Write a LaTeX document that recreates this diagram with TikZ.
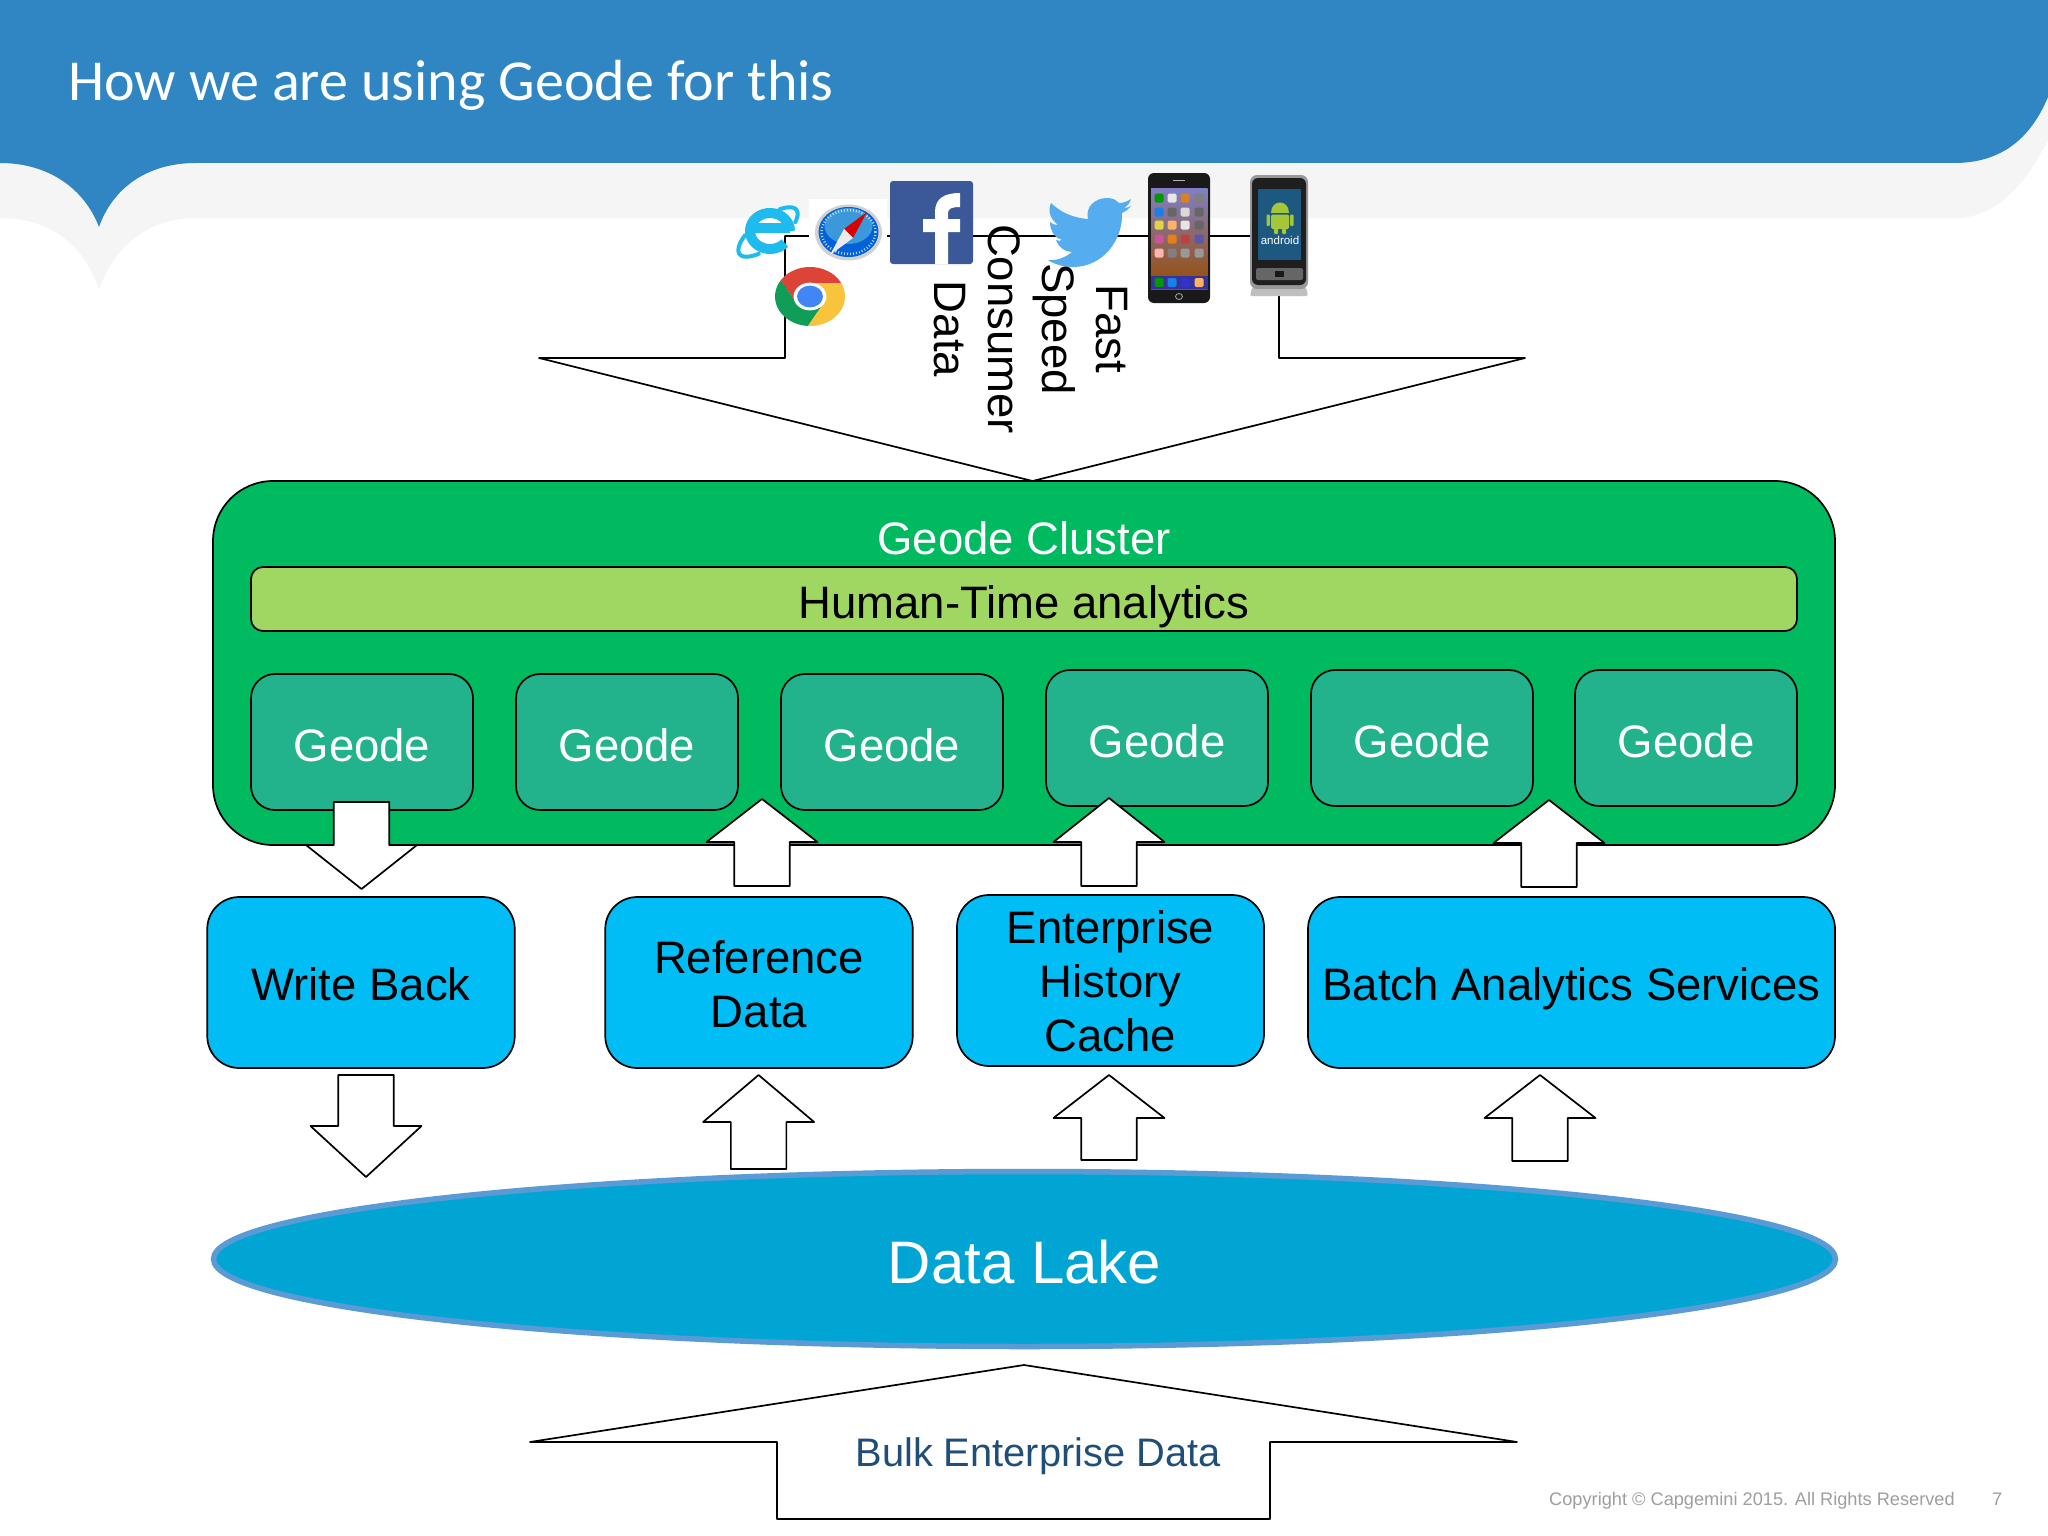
\documentclass[tikz,border=0pt]{standalone}
\usepackage{fontspec}
\setmainfont{Liberation Sans}
\newfontfamily\titlefont{Carlito}
\usetikzlibrary{shapes.geometric}
\newcommand{\szt}[2]{\fontsize{#1}{#2}\selectfont}
\newcommand{\lowered}[2]{\raisebox{-#1pt}[0pt][0pt]{\begin{tabular}[t]{@{}c@{}}#2\end{tabular}}}
\setlength{\tabcolsep}{0pt}
\definecolor{hdrblue}{HTML}{3085C3}
\definecolor{hdrshadow}{HTML}{F5F5F6}
\definecolor{clustergreen}{HTML}{00BA60}
\definecolor{barolive}{HTML}{A0D662}
\definecolor{geodeteal}{HTML}{23B38C}
\definecolor{skyfill}{HTML}{00BDF5}
\definecolor{lakefill}{HTML}{00A5D3}
\definecolor{lakeline}{HTML}{5B9BD5}
\definecolor{bulktext}{HTML}{1F4E79}
\tikzset{
  outline/.style={draw=black,line width=1.7pt},
  blockarrow/.style={outline,fill=white,line join=round},
  geodebox/.style={outline,fill=geodeteal,rounded corners=24pt,minimum width=222pt,minimum height=136pt,inner sep=0pt,text=white,font=\szt{45.5}{54}},
  skybox/.style={outline,fill=skyfill,rounded corners=32pt,minimum height=171pt,inner sep=0pt,align=center,text=black,font=\szt{45.5}{54}},
}
\newcommand{\vblock}[4]{\draw[blockarrow] (#1,#2) -- ({#1+55.5},#3) -- ({#1+27.75},#3) -- ({#1+27.75},#4) -- ({#1-27.75},#4) -- ({#1-27.75},#3) -- ({#1-55.5},#3) -- cycle;}
\begin{document}
\begin{tikzpicture}[x=1pt,y=-1pt]
\useasboundingbox (0,0) rectangle (2048,1536);
\fill[white] (0,0) rectangle (2048,1536);
% header
\fill[hdrshadow] (0,0) -- (2048,0) -- (2048,140) .. controls (2025,185) and (2000,212) .. (1963,218) -- (196,218) .. controls (145,218) and (112,250) .. (99,290) .. controls (85,245) and (50,218) .. (0,218) -- cycle;
\fill[hdrblue] (0,0) -- (2048,0) -- (2048,97) .. controls (2030,140) and (2000,163) .. (1954,163) -- (196,163) .. controls (145,163) and (112,190) .. (99,227) .. controls (85,190) and (50,163) .. (0,163) -- cycle;
\node[anchor=base west,inner sep=0pt,text=white,font=\titlefont\szt{58}{62}] (title) at (68,101) {How we are using Geode for this};
% top block arrow
\draw[blockarrow] (539,358) -- (785,358) -- (785,236) -- (1279,236) -- (1279,358) -- (1525,358) -- (1032.5,481) -- cycle;
% IE
\begin{scope}
\definecolor{iecol}{HTML}{1EBBEE}
\draw[iecol,line width=10pt] (750,228) -- (790,228);
\draw[iecol,line width=10pt] plot[domain=0:-318,samples=30,smooth] ({770+20*cos(\x)},{231+18*sin(\x)});
\begin{scope}[shift={(768,232)},rotate=38]
\draw[iecol,line width=4pt,line cap=round] plot[domain=125:235,samples=16,smooth] ({36*cos(\x)},{14*sin(\x)});
\draw[iecol,line width=4pt,line cap=round] plot[domain=-50:40,samples=16,smooth] ({36*cos(\x)},{14*sin(\x)});
\end{scope}
\end{scope}
% Safari
\fill[white] (809,199) rectangle (887,264);
\fill[black!18] (848.5,232.5) ellipse [x radius=33.5,y radius=28];
\fill[blue!55!cyan!85!black] (848.5,232) ellipse [x radius=30,y radius=25];
\fill[cyan!70!blue!80] (848.5,226) ellipse [x radius=24,y radius=18];
\draw[white,line width=2.5pt,dash pattern=on 1pt off 2pt,opacity=.7] (848.5,232) ellipse [x radius=27,y radius=22];
\fill[red!85!black] (867,212) -- (853,238) -- (844,229) -- cycle;
\fill[white!92!black] (830,255) -- (853,238) -- (844,229) -- cycle;
% Facebook
\fill[fill={rgb,255:red,59;green,89;blue,152},rounded corners=3pt] (890,181) rectangle (973,264);
\fill[white] (960,193) .. controls (945,193) and (935,198) .. (935,212) -- (935,219) -- (923,219) -- (923,232) -- (935,232) -- (935,264) -- (948,264) -- (948,232) -- (960,232) -- (960,219) -- (948,219) -- (948,213) .. controls (948,209) and (951,207) .. (960,207) -- cycle;
% Twitter
\fill[fill={rgb,255:red,85;green,172;blue,238}] (1122,213) .. controls (1123,240) and (1103,267) .. (1073,267) .. controls (1063,267) and (1054,264) .. (1048,260) .. controls (1055,261) and (1065,258) .. (1072,252) .. controls (1065,252) and (1058,247) .. (1056,240) .. controls (1058,241) and (1060,241) .. (1062,240) .. controls (1055,238) and (1050,231) .. (1050,222) .. controls (1052,224) and (1055,225) .. (1058,225) .. controls (1049,218) and (1048,210) .. (1051,203) .. controls (1060,212) and (1073,218) .. (1088,219) .. controls (1085,207) and (1095,198) .. (1107,198) .. controls (1113,198) and (1116,200) .. (1119,203) .. controls (1124,203) and (1128,201) .. (1131,199) .. controls (1130,203) and (1127,206) .. (1124,208) .. controls (1127,208) and (1129,207) .. (1131,206) .. controls (1129,209) and (1126,211) .. (1122,213) -- cycle;
% iPhone
\fill[black!90,rounded corners=6pt] (1148,173) rectangle (1210,303);
\shade[top color=black!45!blue!50,middle color=blue!20!gray,bottom color=orange!60!black] (1151,188) rectangle (1207.5,289);
\foreach \yy/\ca/\cb/\cc/\cd in {198/green!60!black/white!80!gray/orange!70!gray/gray,212/blue!50!cyan!80!gray/black!60/white!70!gray/black!60,225/yellow!70!gray/orange!60!white/white!80!gray/black!60,239/magenta!60!gray/orange!80!gray/red!50!gray/gray!70!blue,253/white!70!red/gray/black!40/black!40}{
  \fill[\ca,rounded corners=1.5pt] (1154.5,\yy-4.5) rectangle ++(9,9);
  \fill[\cb,rounded corners=1.5pt] (1167.5,\yy-4.5) rectangle ++(9,9);
  \fill[\cc,rounded corners=1.5pt] (1180.5,\yy-4.5) rectangle ++(9,9);
  \fill[\cd,rounded corners=1.5pt] (1194.5,\yy-4.5) rectangle ++(9,9);
}
\fill[gray!50!blue!80!black] (1151,276) rectangle (1207.5,289);
\foreach \xx/\cc in {1154.5/green!60!black,1167.5/blue!50!cyan!80!gray,1180.5/blue!60!gray,1194.5/orange!60!white}{
  \fill[\cc,rounded corners=1.5pt] (\xx,278) rectangle ++(9,9);
}
\draw[gray!70,line width=.8pt] (1179,296.5) ellipse [x radius=3.5,y radius=3];
\fill[gray!60] (1173,179.5) rectangle (1185,181);
% Android phone
\fill[black!25,rounded corners=2pt] (1252,287) -- (1306,287) -- (1308,296) -- (1250,296) -- cycle;
\fill[black!40,rounded corners=7pt] (1250,175) rectangle (1308,289);
\fill[black!88,rounded corners=6pt] (1252,178) rectangle (1306,285);
\fill[fill={rgb,255:red,28;green,88;blue,128}] (1258,189) rectangle (1301,260);
\begin{scope}
\definecolor{droid}{HTML}{A4C639}
\fill[droid] (1271,213) .. controls (1271,199) and (1289,199) .. (1289,213) -- cycle;
\fill[droid,rounded corners=1.5pt] (1271,214.5) rectangle (1289,229);
\fill[droid,rounded corners=1pt] (1266.5,214.5) rectangle (1269.8,226);
\fill[droid,rounded corners=1pt] (1290.2,214.5) rectangle (1293.5,226);
\fill[droid,rounded corners=1pt] (1274,228) rectangle (1278,234);
\fill[droid,rounded corners=1pt] (1282,228) rectangle (1286,234);
\node[inner sep=0pt,text=white,font=\szt{11.5}{12}] (droidword) at (1280,240) {android};
\end{scope}
\fill[black!60,rounded corners=2pt] (1256,268) rectangle (1303,280);
\fill[black!90] (1275,271) rectangle (1284,277);
% Chrome
\begin{scope}[shift={(810,296.5)},x=35pt,y=29.5pt]
\foreach \r/\c in {0/{rgb,255:red,219;green,68;blue,55},120/{rgb,255:red,15;green,157;blue,88},240/{rgb,255:red,247;green,196;blue,60}}{
  \fill[fill=\c] plot[domain=26.7:146.8,samples=20] ({cos(\x+\r)},{sin(\x+\r)}) -- ({.45*cos(210+\r)},{.45*sin(210+\r)}) -- ({.45*cos(90+\r)},{.45*sin(90+\r)}) -- cycle;
}
\fill[white] (0,0) circle [radius=.47];
\fill[fill={rgb,255:red,66;green,133;blue,244}] (0,0) circle [radius=.37];
\end{scope}
% rotated arrow text
\node[rotate=-90,align=center,inner sep=0pt,text=black,font=\szt{45.5}{54}] (fast) at (1031,329) {Fast\\Speed\\Consumer\\Data};
% cluster
\node[outline,fill=clustergreen,rounded corners=60pt,minimum width=1622pt,minimum height=364pt,inner sep=0pt] (cluster) at (1024,663) {};
\node[text=white,inner sep=0pt,font=\szt{45.5}{54}] (clustertitle) at (1024,538) {Geode Cluster};
\node[outline,fill=barolive,rounded corners=12pt,minimum width=1546pt,minimum height=64pt,inner sep=0pt,text=black,font=\szt{45.5}{54}] (bar) at (1024,599) {\lowered{19.5}{Human-Time analytics}};
\node[geodebox] (g1) at (362,742) {\lowered{19}{Geode}};
\node[geodebox] (g2) at (627,742) {\lowered{19}{Geode}};
\node[geodebox] (g3) at (892,742) {\lowered{19}{Geode}};
\node[geodebox] (g4) at (1157,738) {\lowered{19}{Geode}};
\node[geodebox] (g5) at (1422,738) {\lowered{19}{Geode}};
\node[geodebox] (g6) at (1686,738) {\lowered{19}{Geode}};
% service boxes
\node[skybox,minimum width=307.5pt] (wb) at (361,982.5) {\lowered{17.5}{Write Back}};
\node[skybox,minimum width=307.5pt] (rd) at (759,982.5) {\lowered{-9.5}{Reference\\Data}};
\node[skybox,minimum width=307pt] (eh) at (1110.5,980.5) {\lowered{-37.5}{Enterprise\\History\\Cache}};
\node[skybox,minimum width=527pt] (ba) at (1571.5,982.5) {\lowered{17.5}{Batch Analytics Services}};
% arrows between layers
\vblock{361.5}{889}{845}{802}
\vblock{762}{799}{842}{886}
\vblock{1109}{798}{842}{886}
\vblock{1549}{800}{843}{887}
\vblock{366}{1177}{1126}{1075}
\vblock{758.6}{1075}{1122}{1169}
\vblock{1109}{1075}{1118}{1160}
\vblock{1540}{1075}{1118}{1161}
% lake
\node[ellipse,draw=lakeline,line width=5.5pt,fill=lakefill,minimum width=1622pt,minimum height=175pt,inner sep=0pt,text=white,font=\szt{60}{64}] (lake) at (1024.5,1259) {\lowered{24}{Data Lake}};
% bulk arrow
\draw[blockarrow] (1024,1365) -- (1517,1442) -- (1270,1442) -- (1270,1519) -- (777,1519) -- (777,1442) -- (530,1442) -- cycle;
\node[anchor=base,inner sep=0pt,text=bulktext,font=\szt{39.8}{44}] (bulk) at (1038,1466) {Bulk Enterprise Data};
% footer
\node[anchor=base west,inner sep=0pt,text=black!38,font=\szt{18.2}{22}] (copy) at (1549,1505) {Copyright © Capgemini 2015. All Rights Reserved};
\node[anchor=base west,inner sep=0pt,text=black!38,font=\szt{18.2}{22}] (page) at (1992,1505) {7};
\end{tikzpicture}
\end{document}
